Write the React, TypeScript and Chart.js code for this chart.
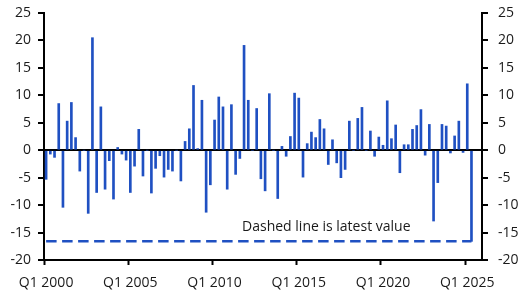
import { useEffect, useRef } from "react";
import { Chart, registerables } from "chart.js";

Chart.register(...registerables);

// Quarterly categories, Q1 2000 through Q4 2025
const FIRST_YEAR = 2000;
const LAST_YEAR = 2025;
const quarters: string[] = [];
for (let y = FIRST_YEAR; y <= LAST_YEAR; y++) {
  for (let q = 1; q <= 4; q++) quarters.push(`Q${q} ${y}`);
}

// Quarterly change, Q1 2000 to Q2 2025
const change: number[] = [
  -5.3, -0.7, -1.3, 8.5, -10.4, 5.3, 8.7, 2.3, -3.8, 0,
  -11.5, 20.5, -7.7, 7.9, -7.1, -1.9, -8.9, 0.5, -0.7, -1.8,
  -7.7, -2.9, 3.8, -4.7, 0, -7.8, -3.3, -1.0, -4.9, -3.5,
  -3.8, 0, -5.6, 1.6, 3.9, 11.8, 0.3, 9.1, -11.3, -6.3,
  5.5, 9.7, 7.9, -7.1, 8.3, -4.4, -1.5, 19.1, 9.1, 0,
  7.6, -5.2, -7.4, 10.3, 0, -8.8, 0.7, -1.1, 2.5, 10.4,
  9.5, -4.9, 1.2, 3.3, 2.3, 5.6, 3.9, -2.6, 1.9, -2.3,
  -5.0, -3.5, 5.3, 0, 5.8, 7.8, 0, 3.5, -1.1, 2.4,
  0.9, 9.0, 2.1, 4.6, -4.1, 1.0, 1.0, 3.8, 4.5, 7.4,
  -0.9, 4.7, -12.9, -5.9, 4.7, 4.4, -0.5, 2.6, 5.3, -0.4,
  12.1, -16.6,
];

const Y_MIN = -20;
const Y_MAX = 25;
const Y_STEP = 5;
const LABEL_EVERY = 20;
const NOTE = "Dashed line is latest value";

const BLUE = "#1f50c2";
const INK = "#1a1a1a";
const FONT_FAMILY = "'Open Sans', sans-serif";

const latest = change[change.length - 1];
const latestLine = change.map(() => latest);

const notePlugin = {
  id: "latestNote",
  afterDatasetsDraw(chart: any) {
    const { ctx, scales } = chart;
    const x = scales.x;
    const y = scales.y;
    ctx.save();
    ctx.font = `14px ${FONT_FAMILY}`;
    ctx.fillStyle = INK;
    ctx.textAlign = "left";
    ctx.textBaseline = "alphabetic";
    ctx.fillText(NOTE, x.getPixelForValue(47) - 2, y.getPixelForValue(latest) - 10);
    ctx.restore();
  },
};

export default function App() {
  const ref = useRef<HTMLCanvasElement | null>(null);

  useEffect(() => {
    if (!ref.current) return;
    const tickFont = { family: FONT_FAMILY, size: 14 };
    const yAxis = (position: "left" | "right") => ({
      position,
      min: Y_MIN,
      max: Y_MAX,
      afterFit: (s: any) => {
        s.width = position === "left" ? 44 : 48;
        // keep the plot area fixed; labels may overhang into the margins
        s.paddingTop = 0;
        s.paddingBottom = 0;
      },
      ticks: {
        stepSize: Y_STEP,
        color: INK,
        font: tickFont,
        padding: position === "left" ? 7 : 10,
        align: "center" as const,
      },
      grid: {
        drawOnChartArea: position === "left",
        color: (c: any) => (c.tick && c.tick.value === 0 ? "#000" : "rgba(0,0,0,0)"),
        lineWidth: 2,
        tickColor: "#000",
        tickLength: 6,
        tickWidth: 2,
      },
      border: { display: true, color: "#000", width: 2 },
    });

    const chart = new Chart(ref.current, {
      type: "bar",
      data: {
        labels: quarters,
        datasets: [
          {
            type: "line",
            data: latestLine,
            borderColor: BLUE,
            borderWidth: 2.5,
            borderDash: [10.5, 5.5],
            pointRadius: 0,
            fill: false,
            order: 0,
          } as any,
          {
            type: "bar",
            data: change,
            backgroundColor: BLUE,
            barThickness: 2,
            order: 1,
          },
        ],
      },
      options: {
        animation: false,
        responsive: false,
        events: [],
        layout: { padding: { top: 13, left: 0, right: 0, bottom: 0 } },
        plugins: { legend: { display: false }, tooltip: { enabled: false } },
        scales: {
          x: {
            type: "category",
            offset: true,
            afterFit: (s: any) => {
              s.height = 42;
              s.paddingLeft = 0;
              s.paddingRight = 0;
            },
            ticks: {
              autoSkip: false,
              maxRotation: 0,
              color: INK,
              font: tickFont,
              padding: 10,
              callback: (_v: any, i: number) => (i % LABEL_EVERY === 0 ? quarters[i] : ""),
            },
            grid: {
              offset: true,
              drawOnChartArea: false,
              tickLength: 5,
              tickWidth: 2,
              tickColor: (c: any) =>
                c.index % LABEL_EVERY === 0 && c.index < quarters.length ? "#000" : "rgba(0,0,0,0)",
            },
            border: { display: true, color: "#000", width: 2 },
          },
          y: yAxis("left"),
          y2: yAxis("right"),
        },
      },
      plugins: [notePlugin],
    });
    return () => chart.destroy();
  }, []);

  return (
    <div style={{ position: "fixed", left: 0, top: 0, width: 530, height: 302, background: "#fff" }}>
      <canvas ref={ref} width={530} height={302} style={{ display: "block" }} />
    </div>
  );
}
